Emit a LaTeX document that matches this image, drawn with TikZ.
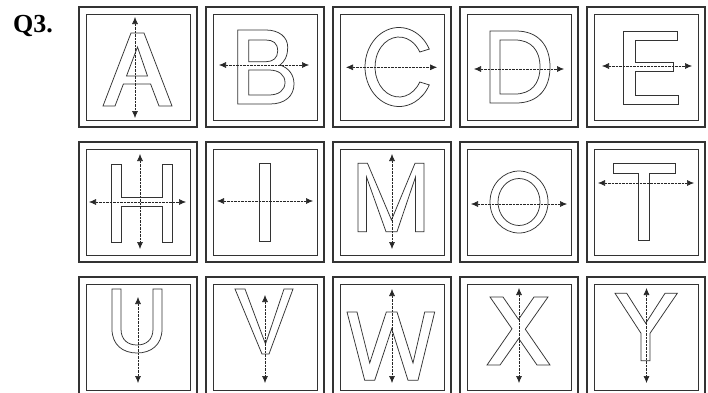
\documentclass[tikz,border=0pt]{standalone}
\usepackage{fontspec}
\setmainfont{Liberation Serif}
\usetikzlibrary{arrows.meta}
\tikzset{
  outerbox/.style={draw=black!80, line width=1.1pt},
  innerbox/.style={draw=black!80, line width=1pt},
  glyph/.style={draw=black!80, line width=0.75pt, line join=miter},
  dimarrow/.style={draw=black!85, line width=0.6pt, dash pattern=on 0.7pt off 0.7pt,
    {Latex[length=7pt,width=6pt]}-{Latex[length=7pt,width=6pt]}},
}
\newcommand{\qframe}{\draw[outerbox] (0,0) rectangle (118,120); \draw[innerbox] (7,7) rectangle (111,113);}
\begin{document}
\begin{tikzpicture}[x=1pt,y=-1pt]
\useasboundingbox (0,0) rectangle (708,392);
\fill[white] (0,0) rectangle (708,392);
\clip (0,0) rectangle (708,392);

\node[anchor=base west, inner sep=0pt, font=\bfseries\fontsize{26}{26}\selectfont] (qlabel) at (13,32) {Q3.};

% ---------- Row 1 ----------
% A
\begin{scope}[shift={(79,7)}]
  \qframe
  \draw[glyph] (24,99) -- (52,26) -- (65,26) -- (93,99) -- (80,99) -- (71.6,77) -- (44.4,77) -- (36,99) -- cycle;
  \draw[glyph] (58.5,40) -- (68.5,69) -- (47.5,69) -- cycle;
  \coordinate (Atop) at (56,10); \coordinate (Abot) at (56,111);
  \draw[dimarrow] (Atop) -- (Abot);
\end{scope}
% B
\begin{scope}[shift={(206,7)}]
  \qframe
  \draw[glyph] (31.7,23) -- (60,23) .. controls (73,23) and (81.7,30) .. (81.7,40)
    .. controls (81.7,50) and (78,55) .. (74,58)
    .. controls (83,61) and (88,68) .. (88,77)
    .. controls (88,89) and (79,97) .. (64,97) -- (31.7,97) -- cycle;
  \draw[glyph] (42.7,33) -- (60,33) .. controls (67,33) and (71.7,36) .. (71.7,44)
    .. controls (71.7,51) and (67,54.7) .. (60,54.7) -- (42.7,54.7) -- cycle;
  \draw[glyph] (42.7,63) -- (63,63) .. controls (73,63) and (79,68) .. (79,75.5)
    .. controls (79,83) and (73,88) .. (63,88) -- (42.7,88) -- cycle;
  \coordinate (Bl) at (13,58); \coordinate (Br) at (103,58);
  \draw[dimarrow] (Bl) -- (Br);
\end{scope}
% C
\begin{scope}[shift={(333,7)}]
  \qframe
  \draw[glyph] (96.29,42.07) arc[start angle=-27, end angle=-333, x radius=34, y radius=39.5]
    -- (86.78,75) arc[start angle=30, end angle=330, x radius=24, y radius=30] -- cycle;
  \coordinate (Cl) at (13,60.3); \coordinate (Cr) at (104,60.3);
  \draw[dimarrow] (Cl) -- (Cr);
\end{scope}
% D
\begin{scope}[shift={(460,7)}]
  \qframe
  \draw[glyph] (30,24) -- (56,24) .. controls (78,24) and (90,38) .. (90,60)
    .. controls (90,82) and (78,96) .. (56,96) -- (30,96) -- cycle;
  \draw[glyph] (40,33) -- (55,33) .. controls (71,33) and (80,43) .. (80,60)
    .. controls (80,77) and (71,87) .. (55,87) -- (40,87) -- cycle;
  \coordinate (Dl) at (14,62); \coordinate (Dr) at (104,62);
  \draw[dimarrow] (Dl) -- (Dr);
\end{scope}
% E
\begin{scope}[shift={(587,7)}]
  \qframe
  \draw[glyph] (36,24) -- (90,24) -- (90,33) -- (48,33) -- (48,55) -- (86,55) -- (86,64)
    -- (48,64) -- (48,88) -- (91,88) -- (91,97) -- (36,97) -- cycle;
  \coordinate (El) at (15,59); \coordinate (Er) at (105,59);
  \draw[dimarrow] (El) -- (Er);
\end{scope}

% ---------- Row 2 ----------
% H
\begin{scope}[shift={(79,142)}]
  \qframe
  \draw[glyph] (32,22) -- (42,22) -- (42,55) -- (83,55) -- (83,22) -- (93,22) -- (93,100)
    -- (83,100) -- (83,64) -- (42,64) -- (42,100) -- (32,100) -- cycle;
  \coordinate (Htop) at (61,12); \coordinate (Hbot) at (61,107);
  \coordinate (Hl) at (10,60); \coordinate (Hr) at (107,60);
  \draw[dimarrow] (Htop) -- (Hbot);
  \draw[dimarrow] (Hl) -- (Hr);
\end{scope}
% I
\begin{scope}[shift={(206,142)}]
  \qframe
  \draw[glyph] (53,21) rectangle (64,99);
  \coordinate (Il) at (11,59); \coordinate (Ir) at (107,59);
  \draw[dimarrow] (Il) -- (Ir);
\end{scope}
% M
\begin{scope}[shift={(333,142)}]
  \qframe
  \draw[glyph] (25,21.3) -- (34.5,21.3) -- (58.5,78) -- (82,21.3) -- (91,21.3) -- (91,89.7)
    -- (82.5,89.7) -- (82.5,35) -- (64,89.7) -- (53,89.7) -- (33.5,35) -- (33.5,89.7)
    -- (25,89.7) -- cycle;
  \coordinate (Mtop) at (59,12); \coordinate (Mbot) at (59,107);
  \draw[dimarrow] (Mtop) -- (Mbot);
\end{scope}
% O
\begin{scope}[shift={(460,142)}]
  \qframe
  \draw[glyph] (59,60) ellipse [x radius=29, y radius=31];
  \draw[glyph] (59,60) ellipse [x radius=21, y radius=23.5];
  \coordinate (Ol) at (11,62); \coordinate (Or) at (107,62);
  \draw[dimarrow] (Ol) -- (Or);
\end{scope}
% T
\begin{scope}[shift={(587,142)}]
  \qframe
  \draw[glyph] (26,21) -- (88,21) -- (88,31) -- (62,31) -- (62,98) -- (51,98) -- (51,31)
    -- (26,31) -- cycle;
  \coordinate (Tl) at (11,41); \coordinate (Tr) at (107,41);
  \draw[dimarrow] (Tl) -- (Tr);
\end{scope}

% ---------- Row 3 ----------
% U
\begin{scope}[shift={(79,277)}]
  \qframe
  \draw[glyph] (33,12) -- (42,12) -- (42,52) .. controls (42,63) and (49,68) .. (58,68)
    .. controls (67,68) and (74,63) .. (74,52) -- (74,12) -- (83,12) -- (83,52)
    .. controls (83,68) and (72,76) .. (58,76) .. controls (44,76) and (33,68) .. (33,52) -- cycle;
  \coordinate (Utop) at (59,20); \coordinate (Ubot) at (59,106);
  \draw[dimarrow] (Utop) -- (Ubot);
\end{scope}
% V
\begin{scope}[shift={(206,277)}]
  \qframe
  \draw[glyph] (29,12) -- (39,12) -- (59.5,67) -- (78,12) -- (87,12) -- (63,77) -- (56,77) -- cycle;
  \coordinate (Vtop) at (59,18); \coordinate (Vbot) at (59,106);
  \draw[dimarrow] (Vtop) -- (Vbot);
\end{scope}
% W
\begin{scope}[shift={(333,277)}]
  \qframe
  \draw[glyph] (14,35) -- (24,35) -- (36.7,86) -- (53.3,35) -- (64,35) -- (80,86) -- (91.7,35)
    -- (101.7,35) -- (85,103.3) -- (75,103.3) -- (58.7,51.7) -- (41.7,103.3) -- (31.7,103.3) -- cycle;
  \coordinate (Wtop) at (59,12); \coordinate (Wbot) at (59,106);
  \draw[dimarrow] (Wtop) -- (Wbot);
\end{scope}
% X
\begin{scope}[shift={(460,277)}]
  \qframe
  \draw[glyph] (30,20) -- (43,20) -- (58.5,42.4) -- (74,20) -- (88,20) -- (65.3,52.2) -- (90,88)
    -- (77,88) -- (58.7,61.5) -- (40,88) -- (27,88) -- (52,51.8) -- cycle;
  \coordinate (Xtop) at (59,11); \coordinate (Xbot) at (59,106);
  \draw[dimarrow] (Xtop) -- (Xbot);
\end{scope}
% Y
\begin{scope}[shift={(587,277)}]
  \qframe
  \draw[glyph] (28,16.3) -- (39.7,16.3) -- (58.7,46.3) -- (78,16.3) -- (90.3,16.3) -- (63,56.3)
    -- (63,83.7) -- (54,83.7) -- (54,56.3) -- cycle;
  \coordinate (Ytop) at (59.5,11); \coordinate (Ybot) at (59.5,106);
  \draw[dimarrow] (Ytop) -- (Ybot);
\end{scope}
\end{tikzpicture}
\end{document}
